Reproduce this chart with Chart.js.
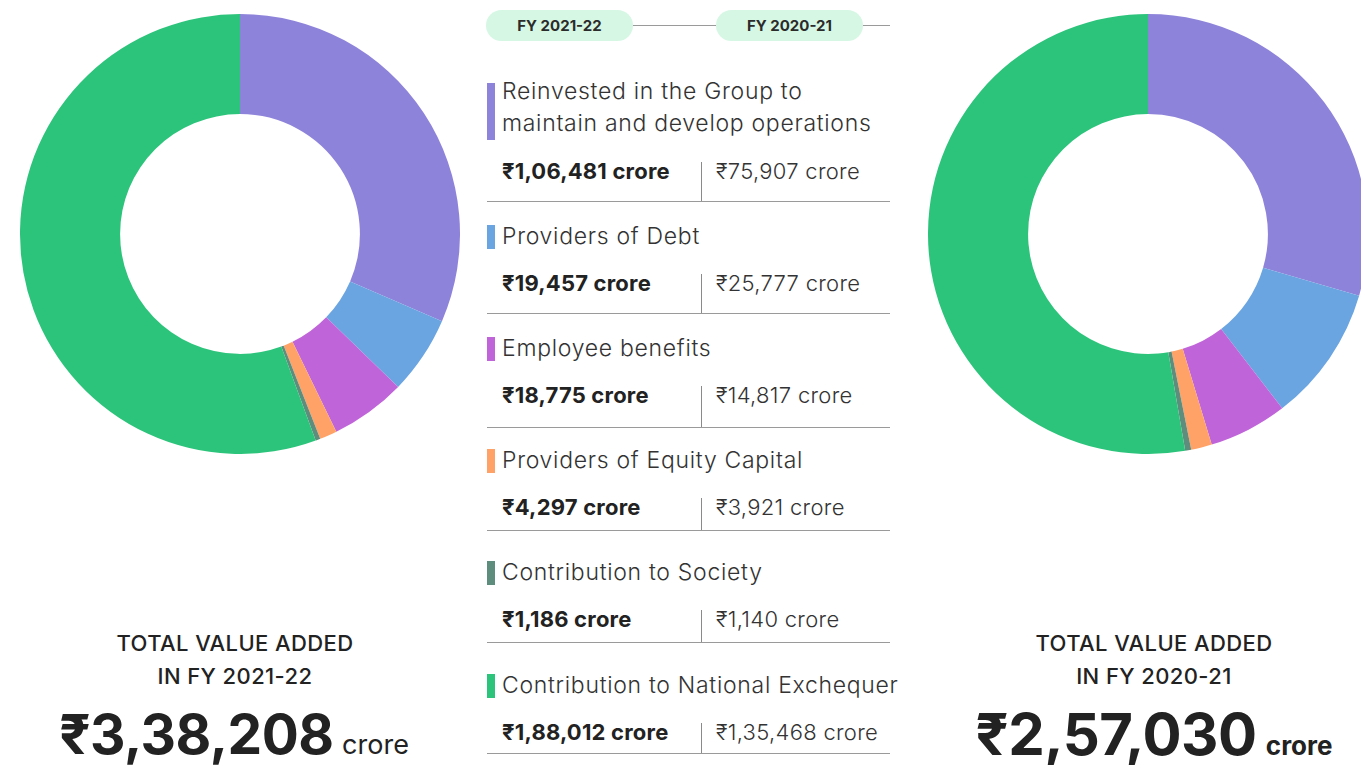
<!DOCTYPE html>
<html>
<head>
<meta charset="utf-8">
<script src="https://cdn.jsdelivr.net/npm/chart.js@4/dist/chart.umd.min.js"></script>
<style>
  html, body { margin: 0; padding: 0; background: #fff; overflow: hidden; }
  body { width: 1361px; height: 765px; position: relative; font-family: "Inter", "Noto Sans", sans-serif; color: #2b2b2b; }
  .pie { position: absolute; top: 14px; width: 440px; height: 440px; }
  .abs { position: absolute; white-space: nowrap; }
  .pill { position: absolute; top: 10px; height: 31px; line-height: 31px; width: 147px; border-radius: 16px;
          background: #d6f7e4; text-align: center; font-weight: 700; font-size: 15px; color: #2b2b2b; }
  .hline { position: absolute; height: 1px; background: #9a9a9a; }
  .vline { position: absolute; width: 1px; background: #8a8a8a; }
  .swatch { position: absolute; left: 487px; width: 8px; }
  .lbl { font-size: 23px; line-height: 32px; left: 502px; color: #333; letter-spacing: 0.7px; font-weight: 300; }
  .cur { font-size: 22px; line-height: 30px; font-weight: 700; left: 502px; color: #222; letter-spacing: 0.2px; }
  .prev { font-size: 22px; line-height: 30px; left: 716px; color: #333; letter-spacing: 0.3px; font-weight: 300; }
  .tot { font-size: 22px; font-weight: 500; line-height: 30px; text-align: center; width: 400px; color: #222; letter-spacing: 0.4px; }
  .big { font-size: 55px; font-weight: 700; line-height: 66px; text-align: center; width: 440px; color: #222; letter-spacing: -0.5px; }
  .big span { font-size: 27px; font-weight: 400; letter-spacing: 0; margin-left: -4px; }
</style>
</head>
<body>
<div class="pie" style="left:20px"><canvas id="c1"></canvas></div>
<div class="pie" style="left:928px"><canvas id="c2"></canvas></div>
<div id="mid"></div>
<div id="totals"></div>
<script>
const categories = [
  'Reinvested in the Group to maintain and develop operations',
  'Providers of Debt',
  'Employee benefits',
  'Providers of Equity Capital',
  'Contribution to Society',
  'Contribution to National Exchequer'
];
const fy2122 = [106481, 19457, 18775, 4297, 1186, 188012];
const fy2021 = [75907, 25777, 14817, 3921, 1140, 135468];
const years = ['FY 2021-22', 'FY 2020-21'];
const colors = ['#8e83da', '#6ba5e1', '#c064d9', '#ffa267', '#5f8d7d', '#2cc47b'];

// Indian style grouping: 3,38,208
function inr(n) {
  let s = String(n);
  if (s.length <= 3) return s;
  let last = s.slice(-3), rest = s.slice(0, -3);
  rest = rest.replace(/\B(?=(\d{2})+(?!\d))/g, ',');
  return rest + ',' + last;
}

function drawDoughnut(id, data) {
  let ctx = document.getElementById(id).getContext('2d');
  return new Chart(ctx, {
    type: 'doughnut',
    data: {
      labels: categories,
      datasets: [{
        data: data,
        backgroundColor: colors,
        borderWidth: 0
      }]
    },
    options: {
      responsive: true,
      maintainAspectRatio: false,
      animation: false,
      cutout: '54.5%',
      layout: { padding: 0 },
      plugins: { legend: { display: false }, tooltip: { enabled: false } }
    }
  });
}

drawDoughnut('c1', fy2122);
drawDoughnut('c2', fy2021);

// middle table
let mid = document.getElementById('mid');
let html = '';
html += '<div class="pill" style="left:486px">' + years[0] + '</div>';
html += '<div class="pill" style="left:716px">' + years[1] + '</div>';
html += '<div class="hline" style="left:633px;width:83px;top:25px"></div>';
html += '<div class="hline" style="left:863px;width:27px;top:25px"></div>';

// vertical positions per row (label centre, value centre, rule)
const labelY = [107, 236, 348, 460, 572, 685];
const valueY = [171, 283, 395, 507, 619, 732];
const ruleY = [201, 313, 427, 530, 642, 753];

categories.forEach(function(cat, i) {
  if (i === 0) {
    html += '<div class="swatch" style="top:83px;height:57px;background:' + colors[i] + '"></div>';
    html += '<div class="abs lbl" style="top:75px">Reinvested in the Group to</div>';
    html += '<div class="abs lbl" style="top:107px">maintain and develop operations</div>';
  } else {
    html += '<div class="swatch" style="top:' + (labelY[i] - 11) + 'px;height:24px;background:' + colors[i] + '"></div>';
    html += '<div class="abs lbl" style="top:' + (labelY[i] - 16) + 'px">' + cat + '</div>';
  }
  html += '<div class="abs cur" style="top:' + (valueY[i] - 15) + 'px">₹' + inr(fy2122[i]) + ' crore</div>';
  html += '<div class="abs prev" style="top:' + (valueY[i] - 15) + 'px">₹' + inr(fy2021[i]) + ' crore</div>';
  html += '<div class="vline" style="left:701px;top:' + (valueY[i] - 9) + 'px;height:' + (ruleY[i] - valueY[i] + 9) + 'px"></div>';
  html += '<div class="hline" style="left:487px;width:403px;top:' + ruleY[i] + 'px"></div>';
});
mid.innerHTML = html;

// totals under each doughnut
let sum1 = fy2122.reduce((a, b) => a + b, 0);
let sum2 = fy2021.reduce((a, b) => a + b, 0);
let tot = '';
tot += '<div class="abs tot" style="left:35px;top:628px">TOTAL VALUE ADDED</div>';
tot += '<div class="abs tot" style="left:35px;top:661px">IN ' + years[0] + '</div>';
tot += '<div class="abs big" style="left:14px;top:701px">₹' + inr(sum1) + ' <span>crore</span></div>';
tot += '<div class="abs tot" style="left:954px;top:628px">TOTAL VALUE ADDED</div>';
tot += '<div class="abs tot" style="left:954px;top:661px">IN ' + years[1] + '</div>';
tot += '<div class="abs big" style="left:934px;top:701px;font-size:58px">₹' + inr(sum2) + ' <span style="font-weight:700;font-size:26px">crore</span></div>';
document.getElementById('totals').innerHTML = tot;
</script>
</body>
</html>
